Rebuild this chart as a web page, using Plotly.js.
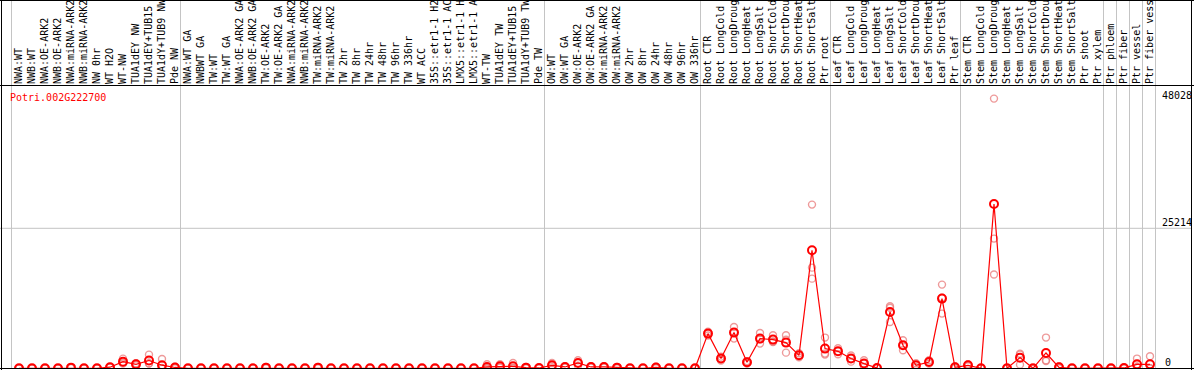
<!DOCTYPE html>
<html>
<head>
<meta charset="utf-8">
<script src="https://cdn.plot.ly/plotly-3.0.1.min.js"></script>
<style>
  html, body { margin: 0; padding: 0; background: #fff; }
  #chart { width: 1194px; height: 370px; }
</style>
</head>
<body>
<div id="chart"></div>
<script>
// ---- data ----
const geneId = "Potri.002G222700";

const labels = ["NWA:WT","NWB:WT","NWA:OE-ARK2","NWB:OE-ARK2","NWA:miRNA-ARK2","NWB:miRNA-ARK2","NW 0hr","WT H2O","WT-NW","TUA1dEY NW","TUA1dEY+TUB15 NW","TUA1dY+TUB9 NW","Pde NW",
"NWA:WT GA","NWBWT GA","TW:WT","TW:WT GA","NWA:OE-ARK2 GA","NWB:OE-ARK2 GA","TW:OE-ARK2","TW:OE-ARK2 GA","NWA:miRNA-ARK2","NWB:miRNA-ARK2","TW:miRNA-ARK2","TW:miRNA-ARK2","TW 2hr","TW 8hr","TW 24hr","TW 48hr","TW 96hr","TW 336hr","WT ACC","35S::etr1-1 H2O","35S::etr1-1 ACC","LMX5::etr1-1 H2O","LMX5::etr1-1 ACC","WT-TW","TUA1dEY TW","TUA1dEY+TUB15 TW","TUA1dY+TUB9 TW","Pde TW",
"OW:WT","OW:WT GA","OW:OE-ARK2","OW:OE-ARK2 GA","OW:miRNA-ARK2","OW:miRNA-ARK2","OW 2hr","OW 8hr","OW 24hr","OW 48hr","OW 96hr","OW 336hr",
"Root CTR","Root LongCold","Root LongDrought","Root LongHeat","Root LongSalt","Root ShortCold","Root ShortDrought","Root ShortHeat","Root ShortSalt","Ptr root",
"Leaf CTR","Leaf LongCold","Leaf LongDrought","Leaf LongHeat","Leaf LongSalt","Leaf ShortCold","Leaf ShortDrought","Leaf ShortHeat","Leaf ShortSalt","Ptr leaf",
"Stem CTR","Stem LongCold","Stem LongDrought","Stem LongHeat","Stem LongSalt","Stem ShortCold","Stem ShortDrought","Stem ShortHeat","Stem ShortSalt","Ptr shoot",
"Ptr xylem","Ptr phloem","Ptr fiber","Ptr vessel","Ptr fiber vessel"];

// mean expression per sample
const means = [0,0,0,0,120,0,0,200,1200,720,1400,560,150,
0,0,0,0,0,0,120,0,0,0,120,0,0,0,0,0,0,0,0,0,0,0,0,240,360,360,120,60,
540,240,960,240,240,120,0,0,150,0,0,0,
6250,1750,6430,1080,5350,5170,4630,2340,21250,3550,
3060,1750,850,60,10140,4140,540,1140,12550,180,
540,0,29600,0,1920,0,2760,180,0,0,
0,0,60,720,720];

// replicate values
const rep1 = [0,0,0,0,180,0,0,240,1740,900,2460,1680,300,
0,0,0,0,0,0,240,0,0,0,240,0,0,0,0,0,0,0,0,0,0,0,0,720,720,960,240,120,
960,360,1440,360,360,240,0,0,300,0,0,0,
6600,2100,7440,1300,6360,5940,5940,2700,29480,5530,
3600,2300,1440,120,11170,5040,900,1440,15070,360,
720,0,48570,0,2640,0,5530,360,0,0,
0,0,120,1750,2160];
const rep2 = [0,0,0,0,120,0,0,200,1020,720,900,0,150,
0,0,0,0,0,0,120,0,0,0,120,0,0,0,0,0,0,0,0,0,0,0,0,0,240,120,120,60,
480,240,960,240,240,120,0,0,150,0,0,0,
6250,1750,6500,1080,5240,4830,5130,2340,18130,2650,
3060,1750,850,60,10900,4140,540,1140,12730,180,
540,0,23360,0,2460,0,1440,180,0,0,
0,0,60,240,0];
const rep3 = [0,0,0,0,60,0,0,160,840,540,840,0,0,
0,0,0,0,0,0,0,0,0,0,0,0,0,0,0,0,0,0,0,0,0,0,0,0,120,0,0,0,
180,120,480,120,120,0,0,0,0,0,0,0,
5900,1400,5350,860,4450,4740,2820,1980,16150,2470,
2520,1200,260,0,8340,3240,180,840,9850,0,
360,0,16880,0,660,0,1310,0,0,0,
0,0,0,170,0];

// group ends (index of last sample in each block), used for separators
const groupEnds = [-1,12,40,52,62,72,83,84,85,86,87];
const yTicks = [25214, 48028];
const yZeroTick = 0;

// ---- layout geometry ----
const W = 1194, H = 370;
const mL = 1, mR = 2, mT = 85, mB = 1;
const pw = W - mL - mR, ph = H - mT - mB;
const step = 13;                    // px per sample
const xmin = -18 / step;
const xmax = xmin + pw / step;
const pxPerVal = 140 / 25214;
const ymin = -0.7 / pxPerVal;
const ymax = ymin + ph / pxPerVal;

const idx = labels.map((_, i) => i);
const font = "DejaVu Sans Mono, monospace";

const repTrace = {
  x: idx.concat(idx, idx),
  y: rep1.concat(rep2, rep3),
  type: "scatter", mode: "markers",
  marker: { symbol: "circle-open", size: 7, color: "rgba(232,120,120,0.75)", line: { width: 1.4 } },
  hoverinfo: "skip", showlegend: false
};
const meanTrace = {
  x: idx, y: means,
  type: "scatter", mode: "lines+markers",
  line: { color: "#ff0000", width: 1.2 },
  marker: { symbol: "circle-open", size: 8, color: "#ff0000", line: { width: 2 } },
  showlegend: false
};

const py2paper = py => (H - mB - py) / ph;
const px2paper = px => (px - mL) / pw;

const shapes = [];
// vertical grey separators through label area
groupEnds.forEach(g => {
  shapes.push({ type: "line", xref: "x", yref: "paper", x0: g + 0.423, x1: g + 0.423,
    y0: 0, y1: py2paper(0), line: { color: "#c4c4c4", width: 1 }, layer: "below" });
});
// horizontal grid at 25214
shapes.push({ type: "line", xref: "paper", yref: "y", x0: px2paper(0), x1: 1, y0: 25214, y1: 25214,
  line: { color: "#c4c4c4", width: 1 }, layer: "below" });
// black frame
const black = { color: "#000", width: 1 };
shapes.push({ type: "line", xref: "paper", yref: "paper", x0: px2paper(0), x1: px2paper(W), y0: py2paper(0.5), y1: py2paper(0.5), line: black });
shapes.push({ type: "line", xref: "paper", yref: "paper", x0: px2paper(0), x1: px2paper(W), y0: py2paper(85.5), y1: py2paper(85.5), line: black });
shapes.push({ type: "line", xref: "paper", yref: "paper", x0: px2paper(0), x1: px2paper(W), y0: py2paper(368.5), y1: py2paper(368.5), line: black });
shapes.push({ type: "line", xref: "paper", yref: "paper", x0: px2paper(1.5), x1: px2paper(1.5), y0: py2paper(0), y1: py2paper(H), line: black });
shapes.push({ type: "line", xref: "paper", yref: "paper", x0: px2paper(1191.5), x1: px2paper(1191.5), y0: py2paper(0), y1: py2paper(H), line: black });

const layout = {
  width: W, height: H,
  margin: { l: mL, r: mR, t: mT, b: mB, pad: 0 },
  paper_bgcolor: "#fff", plot_bgcolor: "#fff",
  showlegend: false,
  xaxis: {
    range: [xmin, xmax], side: "top", tickmode: "array", tickvals: idx, ticktext: labels,
    tickangle: -90, tickfont: { family: font, size: 10, color: "#000" },
    showgrid: false, zeroline: false, showline: false, ticks: "", automargin: false, fixedrange: true
  },
  yaxis: {
    range: [ymin, ymax], anchor: "free", position: px2paper(1161), side: "right",
    showgrid: false, zeroline: false, showline: false, ticks: "", fixedrange: true,
    tickmode: "array", tickvals: yTicks, ticktext: yTicks.map(String), ticklabelshift: -6,
    tickfont: { family: font, size: 10, color: "#000" }, automargin: false
  },
  shapes: shapes,
  annotations: [{
    text: geneId, xref: "paper", yref: "paper", x: px2paper(8), y: py2paper(97),
    xanchor: "left", yanchor: "middle", showarrow: false,
    font: { family: font, size: 10, color: "#ff0000" }
  }, {
    text: String(yZeroTick), xref: "paper", yref: "y", x: px2paper(1163), y: yZeroTick, yshift: 6,
    xanchor: "left", yanchor: "middle", showarrow: false,
    font: { family: font, size: 10, color: "#000" }
  }]
};

Plotly.newPlot("chart", [repTrace, meanTrace], layout, { displayModeBar: false, staticPlot: true });
</script>
</body>
</html>
